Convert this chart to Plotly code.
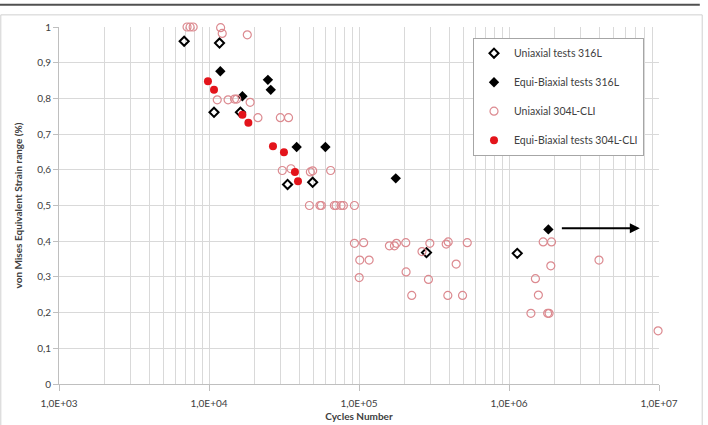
import math
import plotly.graph_objects as go

# ---- data ----
u316_x = [6830, 11750, 10800, 16200, 33400, 49100, 281800, 1135000]
u316_y = [0.960, 0.955, 0.761, 0.761, 0.559, 0.565, 0.368, 0.366]

e316_x = [11900, 24700, 25800, 16700, 38400, 59700, 175800, 1830000]
e316_y = [0.876, 0.852, 0.824, 0.806, 0.664, 0.664, 0.576, 0.433]

u304_x = [7140, 7480, 7840, 11950, 12250, 18000,
          11350, 13400, 14800, 15300, 18800,
          21200, 29900, 33900,
          30800, 35200, 47400, 49100, 64700,
          46700, 54900, 56100, 68500, 70300, 75900, 78700, 93200,
          93200, 107400, 159500, 172300, 177700, 205000, 296600, 381300, 393300, 526800, 1690000, 1920000,
          263000, 101200, 116800, 444300, 206000, 100300, 290400, 224700, 391000, 490000,
          3980000, 1900000, 1500000, 1570000, 1400000, 1810000, 1850000, 9860000]
u304_y = [1.0, 1.0, 1.0, 0.998, 0.982, 0.978,
          0.796, 0.796, 0.798, 0.798, 0.789,
          0.746, 0.746, 0.746,
          0.598, 0.603, 0.594, 0.597, 0.598,
          0.5, 0.5, 0.5, 0.5, 0.5, 0.5, 0.5, 0.5,
          0.394, 0.396, 0.387, 0.387, 0.394, 0.396, 0.394, 0.392, 0.398, 0.396, 0.398, 0.398,
          0.371, 0.347, 0.347, 0.336, 0.314, 0.298, 0.293, 0.248, 0.248, 0.248,
          0.347, 0.331, 0.295, 0.249, 0.198, 0.198, 0.198, 0.149]

e304_x = [9840, 10800, 16700, 18300, 26700, 31600, 37400, 39200]
e304_y = [0.848, 0.824, 0.754, 0.732, 0.666, 0.649, 0.594, 0.568]

arrow_x = [2.2e6, 7.45e6]
arrow_y = [0.436, 0.436]

x_tickvals = [1e3, 1e4, 1e5, 1e6, 1e7]
x_ticktext = ["1,0E+03", "1,0E+04", "1,0E+05", "1,0E+06", "1,0E+07"]
y_tickvals = [0, 0.1, 0.2, 0.3, 0.4, 0.5, 0.6, 0.7, 0.8, 0.9, 1.0]
y_ticktext = ["0", "0,1", "0,2", "0,3", "0,4", "0,5", "0,6", "0,7", "0,8", "0,9", "1"]

FONT = "Lato"
GRID = "#d9d9d9"
TXT = "#404040"
PINK = "#dc8a90"

fig = go.Figure()
fig.add_trace(go.Scatter(
    x=u316_x, y=u316_y, mode="markers", name="Uniaxial tests 316L", legendgroup="a", cliponaxis=False,
    marker=dict(symbol="diamond-open", size=7, color="black", line=dict(width=2, color="black"))))
fig.add_trace(go.Scatter(
    x=e316_x, y=e316_y, mode="markers", name="Equi-Biaxial tests 316L", legendgroup="b", cliponaxis=False,
    marker=dict(symbol="diamond", size=8, color="black")))
fig.add_trace(go.Scatter(
    x=u304_x, y=u304_y, mode="markers", name="Uniaxial 304L-CLI", legendgroup="c", cliponaxis=False,
    marker=dict(symbol="circle-open", size=8, color=PINK, line=dict(width=1.2, color=PINK))))
fig.add_trace(go.Scatter(
    x=e304_x, y=e304_y, mode="markers", name="Equi-Biaxial tests 304L-CLI", legendgroup="d", cliponaxis=False,
    marker=dict(symbol="circle", size=8, color="#e3141b")))

fig.add_annotation(
    x=math.log10(arrow_x[1]), y=arrow_y[1], ax=math.log10(arrow_x[0]), ay=arrow_y[0],
    xref="x", yref="y", axref="x", ayref="y", text="", showarrow=True,
    arrowhead=2, arrowsize=1, arrowwidth=2, arrowcolor="black")

# chart frame
fig.add_shape(type="rect", xref="paper", yref="paper", x0=-0.097, x1=1.072, y0=-0.3, y1=1.034,
              line=dict(color="#d0d0d0", width=1), layer="below")
fig.add_shape(type="line", xref="paper", yref="paper", x0=-0.1, x1=1.068, y0=1.062, y1=1.062,
              line=dict(color="#505050", width=2))

fig.update_layout(
    width=708, height=425,
    margin=dict(l=59, r=49, t=27, b=41),
    paper_bgcolor="white", plot_bgcolor="white",
    font=dict(family=FONT, size=10, color=TXT),
    showlegend=True,
    legend=dict(x=0.69, y=0.97, xanchor="left", yanchor="top",
                bordercolor="#a6a6a6", borderwidth=1, bgcolor="white",
                font=dict(family=FONT, size=10.5, color=TXT),
                tracegroupgap=10, itemwidth=30),
    xaxis=dict(type="log", range=[3, 7], tickvals=x_tickvals, ticktext=x_ticktext,
               showgrid=True, gridcolor=GRID, gridwidth=1, automargin=False,
               minor=dict(dtick="D1", showgrid=True, gridcolor=GRID, gridwidth=1, ticks=""),
               showline=True, linecolor="#bfbfbf", linewidth=1,
               ticks="outside", ticklen=6, tickcolor="#bfbfbf", ticklabelstandoff=4,
               zeroline=False,
               title=dict(text="<b>Cycles Number</b>", font=dict(size=10, color=TXT), standoff=4)),
    yaxis=dict(range=[0, 1], tickvals=y_tickvals, ticktext=y_ticktext,
               showgrid=True, gridcolor=GRID, gridwidth=1, automargin=False,
               showline=True, linecolor="#bfbfbf", linewidth=1,
               ticks="outside", ticklen=5, tickcolor="#bfbfbf",
               zeroline=False,
               title=dict(text="<b>von Mises Equivalent Strain range (%)</b>", font=dict(size=10, color=TXT), standoff=12)),
)

fig.write_html("out.html")
